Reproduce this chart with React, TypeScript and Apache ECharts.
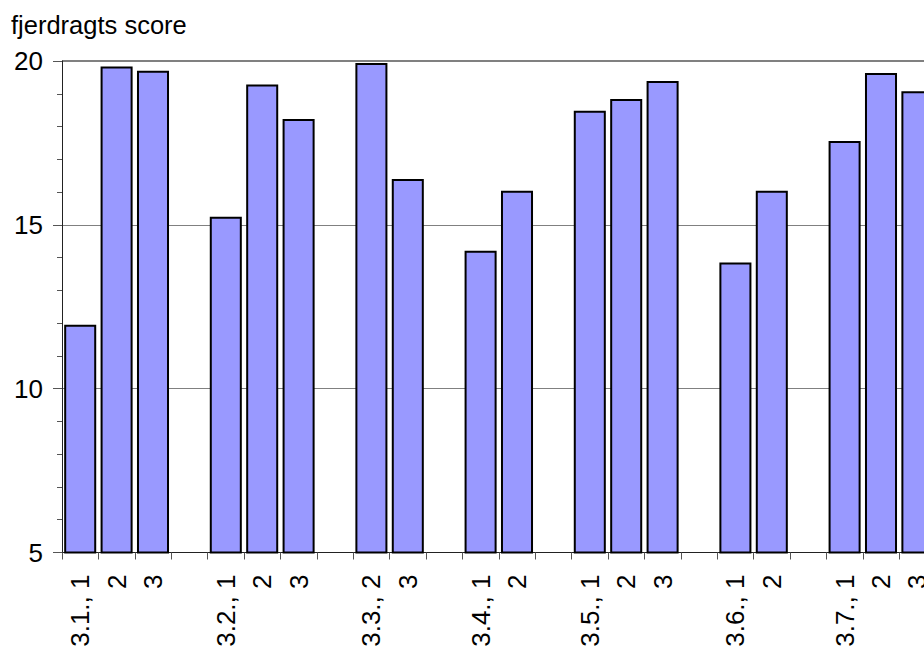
import React, { useEffect, useRef } from "react";
import * as echarts from "echarts";

const categories: string[] = [
  "3.1., 1", "2", "3", "",
  "3.2., 1", "2", "3", "",
  "3.3., 2", "3", "",
  "3.4., 1", "2", "",
  "3.5., 1", "2", "3", "",
  "3.6., 1", "2", "",
  "3.7., 1", "2", "3",
];

const scores: (number | null)[] = [
  11.95, 19.83, 19.70, null,
  15.25, 19.28, 18.23, null,
  19.94, 16.40, null,
  14.21, 16.04, null,
  18.48, 18.84, 19.39, null,
  13.85, 16.04, null,
  17.56, 19.63, 19.08,
];

const yTitle = "fjerdragts score";
const yMin = 5;
const yMax = 20;
const yStep = 5;

const FONT = "'Liberation Sans', Arial, sans-serif";

export default function App() {
  const ref = useRef<HTMLDivElement>(null);

  useEffect(() => {
    if (!ref.current) return;
    const chart = echarts.init(ref.current, undefined, { renderer: "svg" });
    chart.setOption({
      animation: false,
      backgroundColor: "#ffffff",
      textStyle: { fontFamily: FONT },
      title: {
        text: yTitle,
        left: 11,
        top: 12,
        padding: 0,
        textStyle: { fontFamily: FONT, fontSize: 25.5, fontWeight: "normal", color: "#000" },
      },
      grid: { left: 62, right: 4.4, top: 61, bottom: 99.5, containLabel: false },
      xAxis: {
        type: "category",
        data: categories,
        boundaryGap: true,
        axisLine: { show: true, lineStyle: { color: "#222", width: 1 } },
        axisTick: { show: true, inside: false, length: 7, interval: 0, alignWithLabel: false, lineStyle: { color: "#555" } },
        axisLabel: {
          interval: 0,
          rotate: 90,
          margin: 22,
          fontSize: 26,
          fontFamily: FONT,
          color: "#000",
        },
        splitLine: { show: false },
      },
      yAxis: {
        type: "value",
        min: yMin,
        max: yMax,
        interval: yStep,
        axisLine: { show: true, lineStyle: { color: "#222", width: 1 } },
        axisTick: { show: true, inside: false, length: 9, lineStyle: { color: "#555" } },
        minorTick: { show: true, splitNumber: 5, length: 5, lineStyle: { color: "#555" } },
        axisLabel: { fontSize: 26, fontFamily: FONT, color: "#000", margin: 19 },
        splitLine: { show: true, lineStyle: { color: "#808080", width: 1 } },
        minorSplitLine: { show: false },
      },
      series: [
        {
          type: "bar",
          data: scores,
          barCategoryGap: "12%",
          itemStyle: { color: "#9999FF", borderColor: "#000", borderWidth: 2 },
          markLine: {
            silent: true,
            symbol: "none",
            label: { show: false },
            lineStyle: { color: "#808080", width: 2, type: "solid" },
            data: [{ yAxis: yMax }],
            z: 0,
          },
        },
      ],
    });
    return () => chart.dispose();
  }, []);

  return (
    <div style={{ position: "absolute", left: 0, top: 0, width: 924, height: 652, overflow: "hidden", background: "#fff" }}>
      <div ref={ref} style={{ width: 940, height: 652 }} />
    </div>
  );
}
